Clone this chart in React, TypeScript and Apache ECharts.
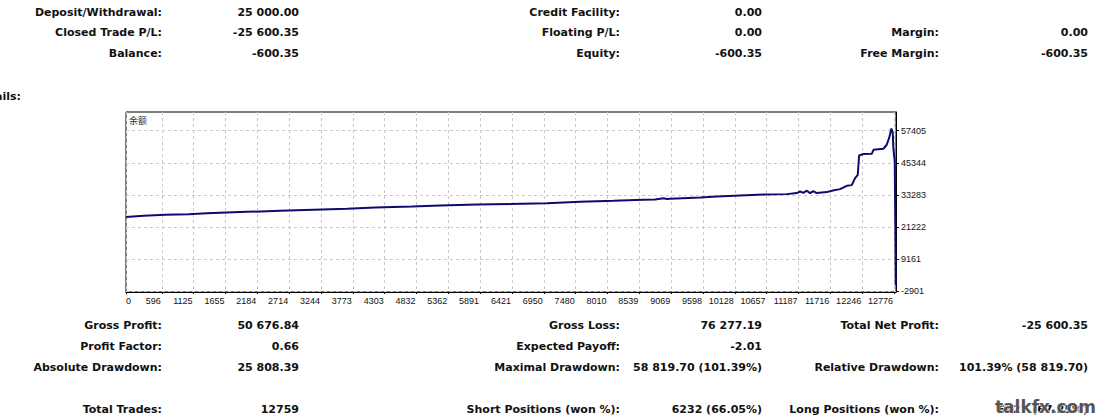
import React, { useEffect, useRef } from "react";
import * as echarts from "echarts";

// ---- chart data (trade number vs. balance) ----
const tradeIndex = [
  0, 293, 654, 1041, 1347, 2012, 2566, 3120, 3675, 4146, 4756, 5227, 5837, 6391,
  7001, 7555, 8109, 8608, 8803, 8941, 9000, 9052, 9551, 9828, 10216, 10603, 10992,
  11159, 11213, 11268, 11324, 11379, 11434, 11491, 11657, 11740, 11878, 11990,
  12073, 12128, 12173, 12195, 12266, 12406, 12433, 12599, 12655, 12699, 12732,
  12755, 12765, 12788, 12798, 12805,
];
const balance = [
  25000, 25470, 25850, 26110, 26480, 26970, 27350, 27720, 28100, 28590, 28970,
  29340, 29720, 29870, 30240, 30730, 31100, 31480, 31600, 32100, 31800, 31900,
  32340, 32730, 33100, 33470, 33620, 34000, 34600, 34100, 34900, 34000, 34750,
  34000, 34380, 34860, 35500, 36740, 37000, 39630, 40870, 48125, 48650, 48760,
  50260, 50640, 52150, 55000, 58219, 56600, 50900, 45870, 21450, -600,
];

const xTickValues = [
  0, 596, 1125, 1655, 2184, 2714, 3244, 3773, 4303, 4832, 5362, 5891, 6421, 6950,
  7480, 8010, 8539, 9069, 9598, 10128, 10657, 11187, 11716, 12246, 12776,
];
const yTickValues = [-2901, 9161, 21222, 33283, 45344, 57405];
const chartTitle = "余额";

// ---- report text ----
const topLabelsA = ["Deposit/Withdrawal:", "Closed Trade P/L:", "Balance:"];
const topValuesA = ["25 000.00", "-25 600.35", "-600.35"];
const topLabelsB = ["Credit Facility:", "Floating P/L:", "Equity:"];
const topValuesB = ["0.00", "0.00", "-600.35"];
const topLabelsC = ["", "Margin:", "Free Margin:"];
const topValuesC = ["", "0.00", "-600.35"];

const botLabelsA = ["Gross Profit:", "Profit Factor:", "Absolute Drawdown:", "Total Trades:"];
const botValuesA = ["50 676.84", "0.66", "25 808.39", "12759"];
const botLabelsB = ["Gross Loss:", "Expected Payoff:", "Maximal Drawdown:", "Short Positions (won %):"];
const botValuesB = ["76 277.19", "-2.01", "58 819.70 (101.39%)", "6232 (66.05%)"];
const botLabelsC = ["Total Net Profit:", "", "Relative Drawdown:", "Long Positions (won %):"];
const botValuesC = ["-25 600.35", "", "101.39% (58 819.70)", "6527 (67.25%)"];

const sectionLabel = "Details:";
const watermark = "talkfx.com";

const TEXT_FONT = 'bold 11px "DejaVu Sans", sans-serif';
const TOP_ROWS_Y = [12, 32, 53];
const BOT_ROWS_Y = [325, 346, 367, 409];
const LABEL_X = [162, 620, 939];
const VALUE_X = [299, 762, 1088];

function textEl(text: string, x: number, y: number) {
  return {
    type: "text",
    x,
    y,
    silent: true,
    style: {
      text,
      font: TEXT_FONT,
      fill: "#111",
      textAlign: "right",
      textVerticalAlign: "middle",
    },
  };
}

function buildTexts() {
  const els: any[] = [];
  const addBlock = (labels: string[][], values: string[][], rows: number[]) => {
    labels.forEach((col, c) => {
      col.forEach((t, r) => {
        if (t) els.push(textEl(t, LABEL_X[c], rows[r]));
      });
    });
    values.forEach((col, c) => {
      col.forEach((t, r) => {
        if (t) els.push(textEl(t, VALUE_X[c], rows[r]));
      });
    });
  };
  addBlock([topLabelsA, topLabelsB, topLabelsC], [topValuesA, topValuesB, topValuesC], TOP_ROWS_Y);
  addBlock([botLabelsA, botLabelsB, botLabelsC], [botValuesA, botValuesB, botValuesC], BOT_ROWS_Y);
  els.push(textEl(sectionLabel, 21, 96));
  els.push({
    type: "text",
    left: 129,
    top: 116,
    silent: true,
    style: {
      text: chartTitle,
      font: '9px "Noto Sans CJK SC", sans-serif',
      fill: "#333",
    },
  });
  els.push({
    type: "text",
    x: 1096,
    y: 407,
    silent: true,
    z: 100,
    style: {
      text: watermark,
      font: 'bold 17px "DejaVu Sans", sans-serif',
      fill: "#555",
      stroke: "#fff",
      lineWidth: 1,
      textAlign: "right",
      textVerticalAlign: "middle",
    },
  });
  return els;
}

export default function App() {
  const ref = useRef<HTMLDivElement>(null);
  useEffect(() => {
    if (!ref.current) return;
    const chart = echarts.init(ref.current, null, { renderer: "svg" });
    const gridLine = { show: true, lineStyle: { color: "#c8c8c8", type: [3, 3], width: 1 } };
    const axisFont = { fontFamily: '"Liberation Sans", Arial, sans-serif', fontSize: 9, color: "#111" };
    chart.setOption({
      animation: false,
      backgroundColor: "#fff",
      grid: {
        left: 126,
        right: 212,
        top: 112,
        bottom: 126,
        show: true,
        borderColor: "#000",
        borderWidth: 1,
        backgroundColor: "#fff",
      },
      xAxis: {
        type: "value",
        min: 0,
        max: 12809,
        axisLine: { show: true, onZero: false, lineStyle: { color: "#000" } },
        axisTick: { show: true, length: 2, customValues: xTickValues, lineStyle: { color: "#000" } },
        axisLabel: {
          ...axisFont,
          customValues: xTickValues,
          margin: 4,
          align: "right",
          alignMinLabel: "left",
          padding: [0, 1, 0, 0],
          formatter: (v: number) => String(v),
        },
        splitLine: gridLine,
      },
      yAxis: {
        type: "value",
        position: "right",
        min: -3100,
        max: 64431,
        axisLine: { show: true, onZero: false, lineStyle: { color: "#000" } },
        axisTick: { show: true, length: 3, customValues: yTickValues, lineStyle: { color: "#000" } },
        axisLabel: {
          ...axisFont,
          customValues: yTickValues,
          margin: 5,
          formatter: (v: number) => String(v),
        },
        splitLine: gridLine,
      },
      series: [
        {
          type: "line",
          data: tradeIndex.map((x, i) => [x, balance[i]]),
          showSymbol: false,
          lineStyle: { color: "#0c0c70", width: 2 },
          z: 5,
        },
      ],
      graphic: buildTexts(),
    });
    return () => chart.dispose();
  }, []);
  return (
    <div
      ref={ref}
      style={{ position: "absolute", left: 0, top: 0, width: 1108, height: 418 }}
    />
  );
}
